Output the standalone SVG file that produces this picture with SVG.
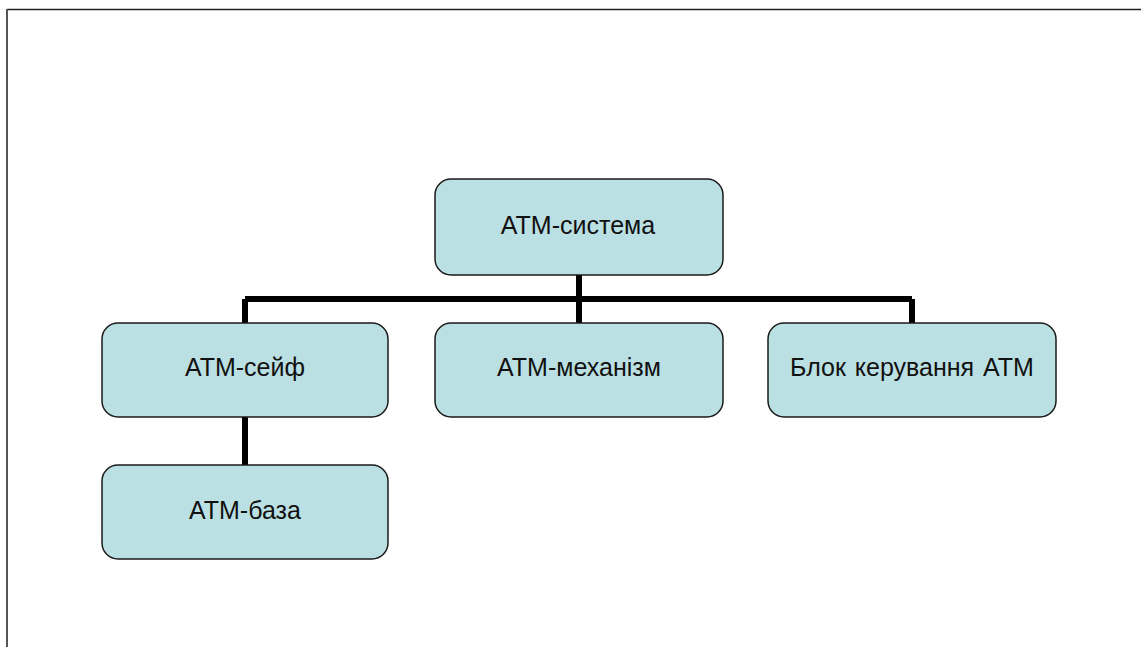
<svg xmlns="http://www.w3.org/2000/svg" width="1141" height="647" viewBox="0 0 1141 647">
  <style>
    .node rect { fill: #bbe0e3; stroke: #1a1a1a; stroke-width: 1.5; }
    .node text { font-family: "Liberation Sans", Arial, sans-serif; font-size: 25px; fill: #111; text-anchor: middle; }
    .wire { stroke: #000; stroke-width: 6; fill: none; }
  </style>
  <rect width="1141" height="647" fill="#fff"/>
  <!-- page frame -->
  <line x1="7" y1="9.5" x2="1141" y2="9.5" stroke="#222" stroke-width="1.5"/>
  <line x1="7" y1="9" x2="7" y2="647" stroke="#555" stroke-width="2"/>

  <g id="connectors">
    <path class="wire" d="M579 275 V299 M245 299 H912 M245 299 V323 M579 299 V323 M912 299 V323"/>
    <path class="wire" d="M245 417 V465"/>
  </g>

  <g id="n-system" class="node">
    <rect x="435" y="179" width="288" height="96" rx="16"/>
    <text x="578" y="234">АТМ-система</text>
  </g>
  <g id="n-safe" class="node">
    <rect x="102" y="323" width="286" height="94" rx="16"/>
    <text x="245" y="376">АТМ-сейф</text>
  </g>
  <g id="n-mechanism" class="node">
    <rect x="435" y="323" width="288" height="94" rx="16"/>
    <text x="579" y="376">АТМ-механізм</text>
  </g>
  <g id="n-control" class="node">
    <rect x="768" y="323" width="288" height="94" rx="16"/>
    <text x="912" y="376" word-spacing="2">Блок керування АТМ</text>
  </g>
  <g id="n-base" class="node">
    <rect x="102" y="465" width="286" height="94" rx="16"/>
    <text x="245" y="519">АТМ-база</text>
  </g>
</svg>
